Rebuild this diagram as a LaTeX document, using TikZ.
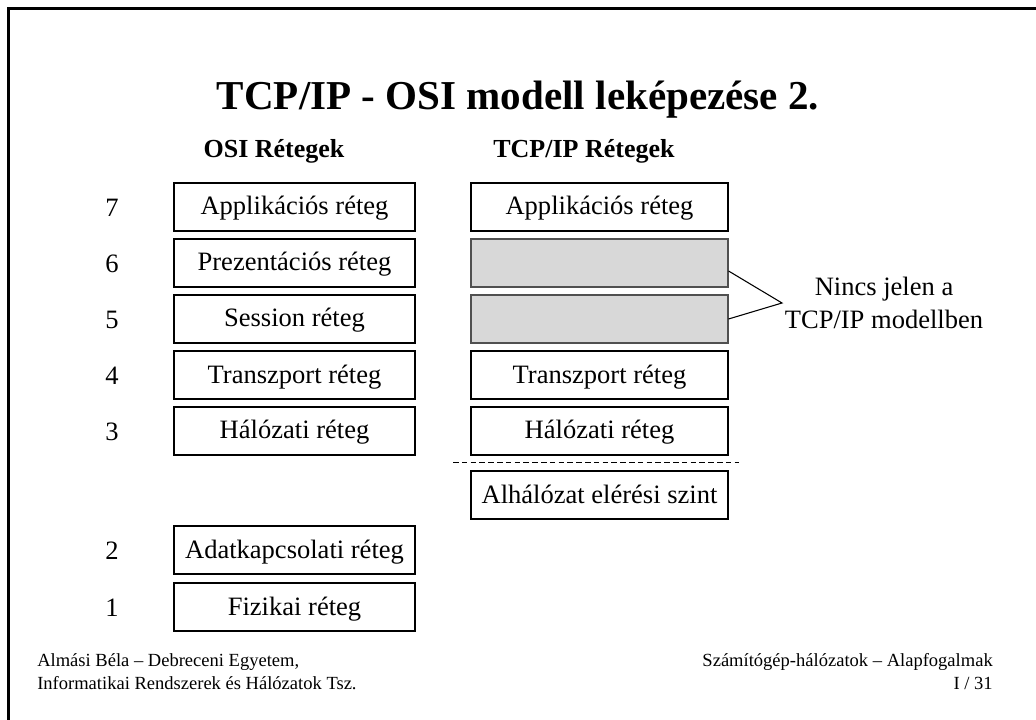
\documentclass[tikz,border=0pt]{standalone}
\usepackage{fontspec}
\setmainfont{Liberation Serif}
\begin{document}
\begin{tikzpicture}[x=0.75pt,y=-0.75pt,
  lbox/.style={draw=black,line width=0.8pt,minimum width=180.75pt,minimum height=36pt,inner sep=0pt,text height=17pt,text depth=5pt,font=\fontsize{19.9}{23}\selectfont},
  rbox/.style={draw=black,line width=0.8pt,minimum width=192.75pt,minimum height=36pt,inner sep=0pt,text height=17pt,text depth=5pt,font=\fontsize{19.9}{23}\selectfont},
  shaded/.style={rbox,fill={rgb,255:red,216;green,216;blue,216},draw={rgb,255:red,80;green,80;blue,80}},
  num/.style={font=\fontsize{19.9}{23}\selectfont,inner sep=0pt},
  hdr/.style={font=\bfseries\fontsize{19.5}{23}\selectfont,inner sep=0pt},
  foot/.style={font=\fontsize{13.9}{17}\selectfont,inner sep=0pt},
  callout/.style={line width=0.8pt}]
\useasboundingbox (0,0) rectangle (1036,720);
% frame
\draw[line width=2.4pt,line cap=rect] (8.5,720) -- (8.5,8.5) -- (1036,8.5);
% title
\node[font=\bfseries\fontsize{30.8}{36}\selectfont,inner sep=0pt] (title) at (518,100) {TCP/IP - OSI modell leképezése 2.};
\node[hdr] (hosi) at (274,151) {OSI Rétegek};
\node[hdr] (htcp) at (584,151) {TCP/IP Rétegek};
% numbers
\node[num] (n7) at (112,208) {7};
\node[num] (n6) at (112,264) {6};
\node[num] (n5) at (112,320) {5};
\node[num] (n4) at (112,376) {4};
\node[num] (n3) at (112,432) {3};
\node[num] (n2) at (112,551) {2};
\node[num] (n1) at (112,608) {1};
% OSI boxes
\node[lbox] (l7) at (294.5,207) {Applikációs réteg};
\node[lbox] (l6) at (294.5,263) {Prezentációs réteg};
\node[lbox] (l5) at (294.5,319) {Session réteg};
\node[lbox] (l4) at (294.5,375) {Transzport réteg};
\node[lbox] (l3) at (294.5,431) {Hálózati réteg};
\node[lbox] (l2) at (294.5,550) {Adatkapcsolati réteg};
\node[lbox] (l1) at (294.5,607) {Fizikai réteg};
% TCP/IP boxes
\node[rbox] (r7) at (599.5,207) {Applikációs réteg};
\node[shaded] (r6) at (599.5,263) {};
\node[shaded] (r5) at (599.5,319) {};
\node[rbox] (r4) at (599.5,375) {Transzport réteg};
\node[rbox] (r3) at (599.5,431) {Hálózati réteg};
\node[rbox] (ra) at (599.5,495) {Alhálózat elérési szint};
% dashed separator
\coordinate (dl) at (453,462.5);
\coordinate (dr) at (739,462.5);
\draw[line width=0.8pt,dash pattern=on 4.2pt off 2.4pt] (dl) -- (dr);
% callout
\coordinate (apex) at (782,303);
\draw[callout] ([yshift=-6pt]r6.east) -- (apex) -- (r5.east);
\node[font=\fontsize{19.9}{24.5}\selectfont,align=center,inner sep=0pt] (note) at (884,303) {Nincs jelen a\\TCP/IP modellben};
% footer
\node[foot,anchor=west,align=left] (fl) at (37,671.5) {Almási Béla – Debreceni Egyetem,\\Informatikai Rendszerek és Hálózatok Tsz.};
\node[foot,anchor=east,align=right] (fr) at (993,671.5) {Számítógép-hálózatok – Alapfogalmak\\I / 31};
\end{tikzpicture}
\end{document}
